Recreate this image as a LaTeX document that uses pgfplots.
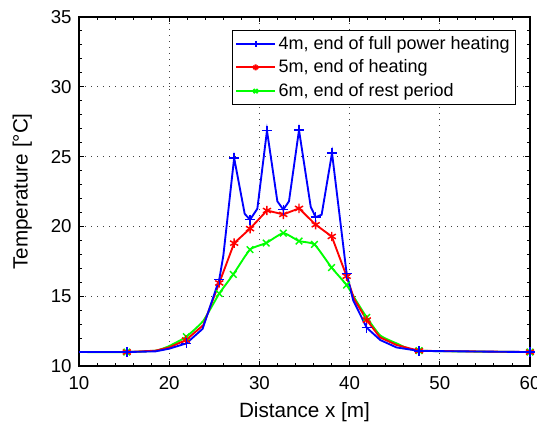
\documentclass[border=0pt]{standalone}
\usepackage{fontspec}
\setmainfont{Liberation Sans}
\usepackage{pgfplots}
\pgfplotsset{compat=1.18}

\begin{document}
\begin{tikzpicture}
\begin{axis}[
    name=ax,
    scale only axis,
    width=338.25pt, height=261.75pt,
    xmin=10, xmax=60, ymin=10, ymax=35,
    xtick={10,20,...,60}, ytick={10,15,...,35},
    minor x tick num=4, minor y tick num=4,
    tick align=inside,
    major tick length=4pt, minor tick length=2.5pt,
    every tick/.style={black, line width=0.7pt},
    grid=major,
    major grid style={black!75, line width=0.6pt, dash pattern=on 0.6pt off 3.9pt},
    axis line style={line width=0.9pt},
    /pgf/number format/assume math mode=true,
    ticklabel style={font=\fontsize{14}{16}\selectfont},
    xticklabel style={yshift=-4.5pt},
    yticklabel style={xshift=-2pt},
    xlabel={Distance x [m]},
    ylabel={Temperature [°C]},
    label style={font=\fontsize{15.5}{18}\selectfont},
    xlabel style={at={(0.5,-0.132)}, anchor=center},
    ylabel style={at={(-0.126,0.5)}, anchor=center},
    legend cell align=left,
    legend style={at={(0.969,0.963)}, anchor=north east, draw=black,
      font=\fontsize{13.5}{15}\selectfont, row sep=2.5pt, inner sep=2.5pt},
    legend image code/.code={
      \draw[mark repeat=2,mark phase=2,#1] plot coordinates {(0cm,0cm) (0.51cm,0cm) (1.02cm,0cm)};
    },
  ]

  % legend entries
  \addlegendimage{blue, line width=1.4pt, mark=+, mark size=2.2pt}
  \addlegendentry{4m, end of full power heating}
  \addlegendimage{red, line width=1.4pt, mark=asterisk, mark size=2.2pt}
  \addlegendentry{5m, end of heating}
  \addlegendimage{green, line width=1.4pt, mark=x, mark size=2.2pt}
  \addlegendentry{6m, end of rest period}

  % ---- 6m, end of rest period ----
  \addplot[green, line width=1.4pt, smooth, tension=0.3, forget plot] coordinates {
    (10,11) (15.3,11) (18.5,11.1) (20,11.43) (21.9,12.1) (23.78,13.24) (25.55,15.19)
    (27.1,16.56) (28.96,18.34) (30.75,18.81) (32.65,19.52) (34.39,18.95) (36.1,18.71)
    (38.0,17.05) (39.67,15.8) (40.8,14.6) (41.9,13.48) (43.37,12.2) (45.22,11.62)
    (47.7,11.1) (60,11)
  };
  % ---- 5m, end of heating ----
  \addplot[red, line width=1.4pt, forget plot] coordinates {
    (10,11) (15.3,11) (18.5,11.1) (20,11.33) (21.86,11.86) (23.78,12.93) (25.55,15.95)
    (27.2,18.8) (28.96,19.84) (30.84,21.14) (32.65,20.86) (34.39,21.29) (36.24,20.12)
    (38.02,19.28) (39.67,16.43) (40.5,14.8) (41.9,13.29) (43.37,12.05) (45.22,11.5)
    (47.7,11.09) (60,11)
  };
  % ---- 4m, end of full power heating ----
  \addplot[blue, line width=1.4pt, forget plot] coordinates {
    (10,11) (15.3,11) (18.5,11.05) (20,11.24) (21.9,11.62) (23.7,12.66) (25.55,16.2)
    (26.0,17.9) (27.2,24.9) (28.37,20.9) (28.96,20.48) (29.77,21.26) (30.84,26.86)
    (31.99,21.8) (32.65,21.2) (33.28,21.8) (34.39,26.9) (35.69,21.4) (36.24,20.66)
    (36.9,20.84) (38.05,25.26) (39.67,16.62) (40.4,14.7) (41.9,12.74) (43.4,11.86)
    (45.2,11.33) (47.7,11.08) (60,11)
  };

  % markers
  \addplot[only marks, green, mark=x, mark size=3.5pt, line width=1.1pt, forget plot] coordinates {
    (15.3,11) (21.9,12.1) (25.55,15.19) (27.1,16.56) (28.96,18.34) (30.75,18.81)
    (32.65,19.52) (34.39,18.95) (36.1,18.71) (38.0,17.05) (39.67,15.8) (41.9,13.48)
    (47.7,11.1) (60,11)
  };
  \addplot[only marks, red, mark=asterisk, mark size=3.5pt, line width=1.1pt, forget plot] coordinates {
    (15.3,11) (21.86,11.86) (25.55,15.95) (27.2,18.8) (28.96,19.84) (30.84,21.14)
    (32.65,20.86) (34.39,21.29) (36.24,20.12) (38.02,19.28) (39.67,16.43) (41.9,13.29)
    (47.7,11.09) (60,11)
  };
  \addplot[only marks, blue, mark=+, mark size=3.8pt, line width=1.1pt, forget plot] coordinates {
    (15.3,11) (21.9,11.62) (25.55,16.2) (27.2,24.9) (28.96,20.48) (30.84,26.86)
    (32.65,21.2) (34.39,26.9) (36.24,20.66) (38.05,25.26) (39.67,16.62) (41.9,12.74)
    (47.7,11.08) (60,11)
  };

\end{axis}
\pgfresetboundingbox
\path[use as bounding box] ([xshift=-59.25pt,yshift=-44.25pt]ax.south west)
  rectangle ([xshift=5.25pt,yshift=12.75pt]ax.north east);
\end{tikzpicture}
\end{document}
